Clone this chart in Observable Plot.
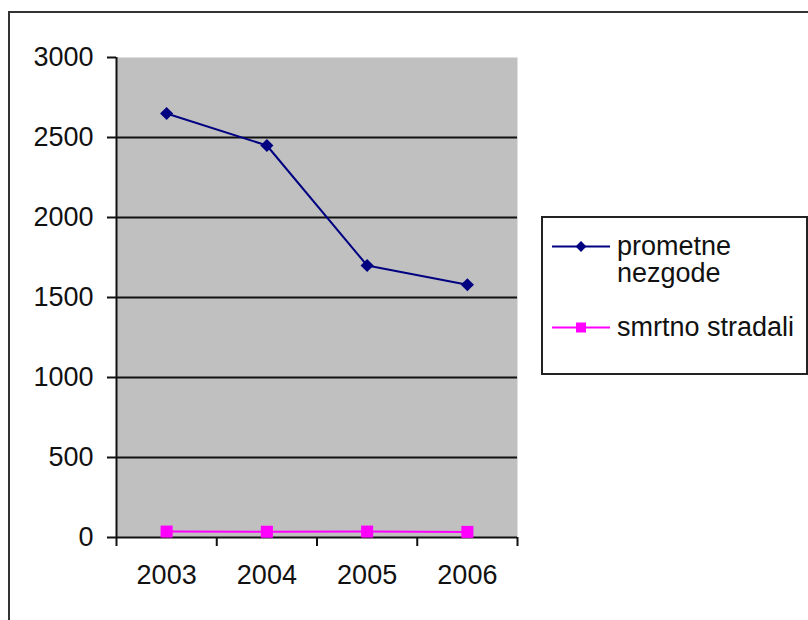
<!DOCTYPE html>
<html><head><meta charset="utf-8">
<script src="https://cdn.jsdelivr.net/npm/d3@7"></script>
<script src="https://cdn.jsdelivr.net/npm/@observablehq/plot@0.6"></script>
<style>
html,body{margin:0;padding:0;background:#fff;overflow:hidden;}
#wrap{position:relative;width:808px;height:620px;overflow:hidden;font-family:"Liberation Sans",Arial,sans-serif;color:#111;}
#outer{position:absolute;left:8px;top:11px;width:900px;height:800px;border:2px solid #333;}
#chart{position:absolute;left:0;top:0;}
#legend{position:absolute;left:541px;top:216px;width:263px;height:155px;border:2px solid #222;background:#fff;}
.item{position:absolute;left:0;}
.item svg{position:absolute;left:9px;}
.item .lab{position:absolute;left:74px;width:188px;font-size:27px;line-height:27px;}
</style></head>
<body>
<div id="wrap">
  <div id="outer"></div>
  <div id="chart"></div>
  <div id="legend"></div>
</div>
<script>
const years = [2003, 2004, 2005, 2006];
const prometneNezgode = [2650, 2450, 1700, 1580];
const smrtnoStradali = [37, 36, 37, 35];
const yTicks = [0, 500, 1000, 1500, 2000, 2500, 3000];
const seriesNames = ["prometne nezgode", "smrtno stradali"];
const seriesColors = ["#000080", "#ff00ff"];
const seriesSymbols = ["diamond2", "square"];

const rows = years.flatMap((y, i) => [
  {year: y, value: prometneNezgode[i], series: seriesNames[0]},
  {year: y, value: smrtnoStradali[i], series: seriesNames[1]}
]);
const bounds = years.map(y => y - 0.5).concat([years[years.length - 1] + 0.5]);

const chart = Plot.plot({
  width: 808, height: 620,
  marginLeft: 116, marginRight: 291, marginTop: 57, marginBottom: 83,
  style: {fontFamily: "'Liberation Sans', Arial, sans-serif", fontSize: "27px", color: "#111", background: "transparent", overflow: "visible"},
  x: {domain: [bounds[0], bounds[bounds.length - 1]]},
  y: {domain: [0, 3000]},
  color: {domain: seriesNames, range: seriesColors},
  symbol: {domain: seriesNames, range: seriesSymbols},
  marks: [
    Plot.frame({fill: "#c0c0c0", stroke: "none"}),
    Plot.ruleY(yTicks.filter(t => t > 0 && t < 3000), {stroke: "#111", strokeWidth: 2}),
    Plot.ruleY([0], {stroke: "#111", strokeWidth: 2}),
    Plot.ruleX([bounds[0]], {stroke: "#111", strokeWidth: 2}),
    Plot.axisY({ticks: yTicks, tickSize: 9, tickPadding: 14, tickFormat: d => String(d), label: null, strokeWidth: 2, fontSize: 27}),
    Plot.axisX({ticks: bounds, tickSize: 9, tickFormat: () => "", label: null, strokeWidth: 2}),
    Plot.text(years, {x: d => d, frameAnchor: "bottom", dy: 46, text: d => String(d), fontSize: 27}),
    Plot.line(rows, {x: "year", y: "value", z: "series", stroke: "series", strokeWidth: 2}),
    Plot.dot(rows.filter(d => d.series === seriesNames[0]), {x: "year", y: "value", fill: "series", symbol: "series", r: 5.9, stroke: "none"}),
    Plot.dot(rows.filter(d => d.series === seriesNames[1]), {x: "year", y: "value", fill: "series", symbol: "series", r: 6.8, stroke: "none"})
  ]
});
document.getElementById("chart").appendChild(chart);

// legend
const legend = document.getElementById("legend");
const itemTops = [15, 96];
const markerSizes = [74, 100];
seriesNames.forEach((name, i) => {
  const item = document.createElement("div");
  item.className = "item";
  item.style.top = itemTops[i] + "px";
  const svg = d3.create("svg").attr("width", 58).attr("height", 27).style("top", "0px");
  svg.append("line").attr("x1", 0).attr("x2", 58).attr("y1", 13.5).attr("y2", 13.5)
    .attr("stroke", seriesColors[i]).attr("stroke-width", 2);
  const sym = seriesSymbols[i] === "square" ? d3.symbolSquare : d3.symbolDiamond2;
  svg.append("path").attr("d", d3.symbol(sym, markerSizes[i])()).attr("transform", "translate(29,13.5)")
    .attr("fill", seriesColors[i]);
  item.appendChild(svg.node());
  const lab = document.createElement("div");
  lab.className = "lab";
  lab.textContent = name;
  item.appendChild(lab);
  legend.appendChild(item);
});
</script>
</body></html>
